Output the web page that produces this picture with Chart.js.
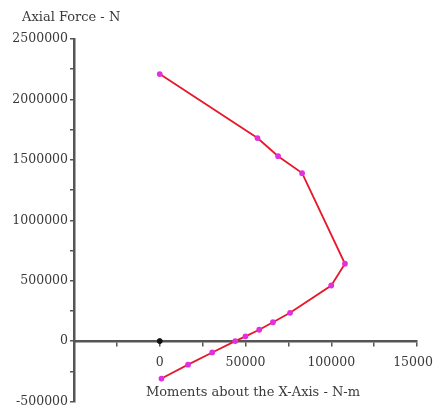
<!DOCTYPE html>
<html>
<head>
<meta charset="utf-8">
<script src="https://cdn.jsdelivr.net/npm/chart.js@4/dist/chart.umd.min.js"></script>
<style>
  body { margin: 0; background: #fff; }
  canvas { display: block; }
</style>
</head>
<body>
<canvas id="pm-chart" width="433" height="411"></canvas>
<script>
// interaction curve (top -> bottom)
var moments = [0, 57000, 69000, 83000, 108000, 100000, 76000, 66000, 58000, 50000, 44000, 30600, 16500, 1000];
var axialForce = [2210000, 1680000, 1530000, 1390000, 640000, 460000, 234000, 156000, 94000, 39000, 0, -94000, -195000, -310000];

// the black dot on the moment axis
var originX = [0];
var originY = [0];

var xLabelTicks = [0, 50000, 100000, 150000];
var yLabelTicks = [2500000, 2000000, 1500000, 1000000, 500000, 0, -500000];

var yTitle = 'Axial Force - N';
var xTitle = 'Moments about the X-Axis - N-m';

var textColor = '#3a3a3a';
var axisColor = '#555';

function toPoints(xs, ys) {
  return xs.map(function (x, i) {
    return { x: x, y: ys[i] };
  });
}

// titles are written straight onto the canvas
var titlePlugin = {
  id: 'titles',
  afterDraw: function (chart) {
    var ctx = chart.ctx;
    ctx.save();
    ctx.fillStyle = textColor;
    ctx.font = '13px "DejaVu Serif"';
    ctx.textBaseline = 'middle';
    ctx.textAlign = 'left';
    ctx.fillText(yTitle, 22, 18);
    ctx.textAlign = 'center';
    ctx.fillText(xTitle, 253, 393);
    ctx.restore();
  }
};

new Chart(document.getElementById('pm-chart'), {
  type: 'scatter',
  data: {
    datasets: [{
      data: toPoints(moments, axialForce),
      showLine: true,
      borderColor: '#e8182c',
      borderWidth: 1.8,
      pointBackgroundColor: '#e030e0',
      pointBorderColor: '#e030e0',
      pointRadius: 2,
      tension: 0
    }, {
      data: toPoints(originX, originY),
      pointBackgroundColor: '#111',
      pointBorderColor: '#111',
      pointRadius: 2.5
    }]
  },
  options: {
    responsive: false,
    animation: false,
    layout: {
      padding: { left: 0, right: 16, top: 39, bottom: 9 }
    },
    plugins: {
      legend: { display: false },
      tooltip: { enabled: false }
    },
    scales: {
      x: {
        type: 'linear',
        position: { y: 0 },
        min: -50000,
        max: 150000,
        afterFit: function (s) {
          s.height = 0;
          s.paddingLeft = 0;
          s.paddingRight = 0;
        },
        border: { display: true, color: axisColor, width: 2.5 },
        grid: {
          drawOnChartArea: false,
          drawTicks: true,
          tickLength: 4,
          color: axisColor,
          lineWidth: 1.5
        },
        ticks: {
          stepSize: 25000,
          maxRotation: 0,
          autoSkip: false,
          padding: 10,
          color: textColor,
          font: { family: 'DejaVu Serif', size: 12.5 },
          callback: function (v) {
            return xLabelTicks.indexOf(v) >= 0 ? String(v) : '';
          }
        }
      },
      y: {
        type: 'linear',
        position: 'left',
        min: -500000,
        max: 2500000,
        afterFit: function (s) {
          s.width = 74;
        },
        border: { display: true, color: axisColor, width: 2.5 },
        grid: {
          drawOnChartArea: false,
          drawTicks: true,
          tickLength: 4,
          color: axisColor,
          lineWidth: 1.5
        },
        ticks: {
          stepSize: 250000,
          autoSkip: false,
          padding: 2,
          color: textColor,
          font: { family: 'DejaVu Serif', size: 12.5 },
          callback: function (v) {
            return yLabelTicks.indexOf(v) >= 0 ? String(v) : '';
          }
        }
      }
    }
  },
  plugins: [titlePlugin]
});
</script>
</body>
</html>
